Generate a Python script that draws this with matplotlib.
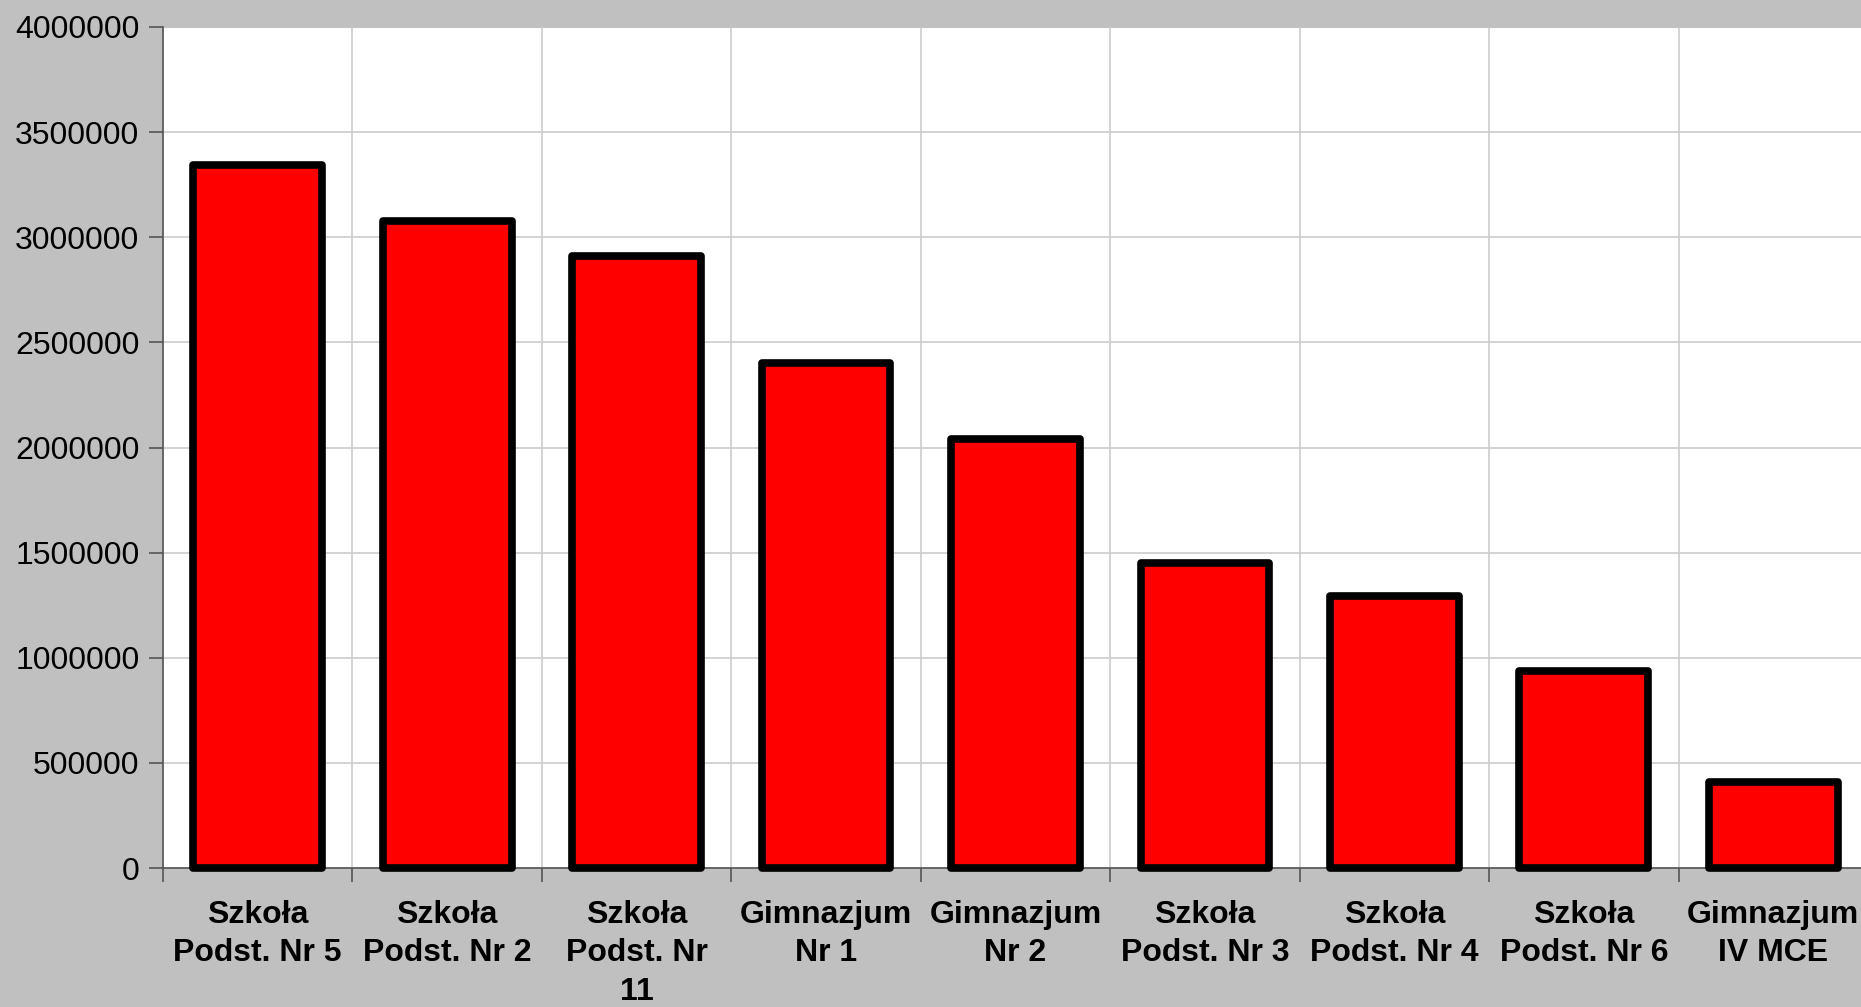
import numpy as np
import matplotlib.pyplot as plt
from matplotlib.ticker import FixedLocator, FuncFormatter

# Dane
szkoly = [
    "Szkoła\nPodst. Nr 5",
    "Szkoła\nPodst. Nr 2",
    "Szkoła\nPodst. Nr\n11",
    "Gimnazjum\nNr 1",
    "Gimnazjum\nNr 2",
    "Szkoła\nPodst. Nr 3",
    "Szkoła\nPodst. Nr 4",
    "Szkoła\nPodst. Nr 6",
    "Gimnazjum\nIV MCE",
]
kwoty = [3343000, 3076000, 2910000, 2403000, 2042000, 1450000, 1292000, 937000, 410000]
y_ticks = [0, 500000, 1000000, 1500000, 2000000, 2500000, 3000000, 3500000, 4000000]

plt.rcParams["font.family"] = ["Liberation Sans", "DejaVu Sans"]

fig = plt.figure(figsize=(18.61, 10.07), dpi=100, facecolor="#c0c0c0")
ax = fig.add_axes([163 / 1861, 1 - 868 / 1007, (1868 - 163) / 1861, (868 - 27) / 1007])
ax.set_facecolor("white")

x = np.arange(len(szkoly))
ax.bar(x, kwoty, width=0.68, color="#ff0000", edgecolor="black", linewidth=5.5,
       joinstyle="round", zorder=3, clip_on=False)

ax.set_xlim(-0.5, len(szkoly) - 0.5)
ax.set_ylim(0, 4000000)

# osie i siatka
ax.set_yticks(y_ticks)
ax.yaxis.set_major_formatter(FuncFormatter(lambda v, p: f"{int(v)}"))
ax.set_xticks(x)
ax.set_xticklabels(szkoly, fontweight="bold", fontsize=23, linespacing=1.36)
ax.xaxis.set_minor_locator(FixedLocator(np.arange(-0.5, len(szkoly), 1.0)))

ax.tick_params(axis="x", which="major", length=0, pad=23)
ax.tick_params(axis="x", which="minor", length=10, width=1.2, color="#555555")
ax.tick_params(axis="y", length=10, width=1.2, color="#555555", labelsize=23, pad=7)

ax.grid(True, axis="y", color="#cccccc", linewidth=1.2, zorder=0)
ax.grid(True, axis="x", which="minor", color="#cccccc", linewidth=1.2, zorder=0)

for s in ["top", "right"]:
    ax.spines[s].set_visible(False)
for s in ["left", "bottom"]:
    ax.spines[s].set_color("#555555")
    ax.spines[s].set_linewidth(1.2)
ax.axhline(4000000, color="#999999", linewidth=1.5, zorder=1)

fig.savefig("out.png", dpi=100, facecolor=fig.get_facecolor())
